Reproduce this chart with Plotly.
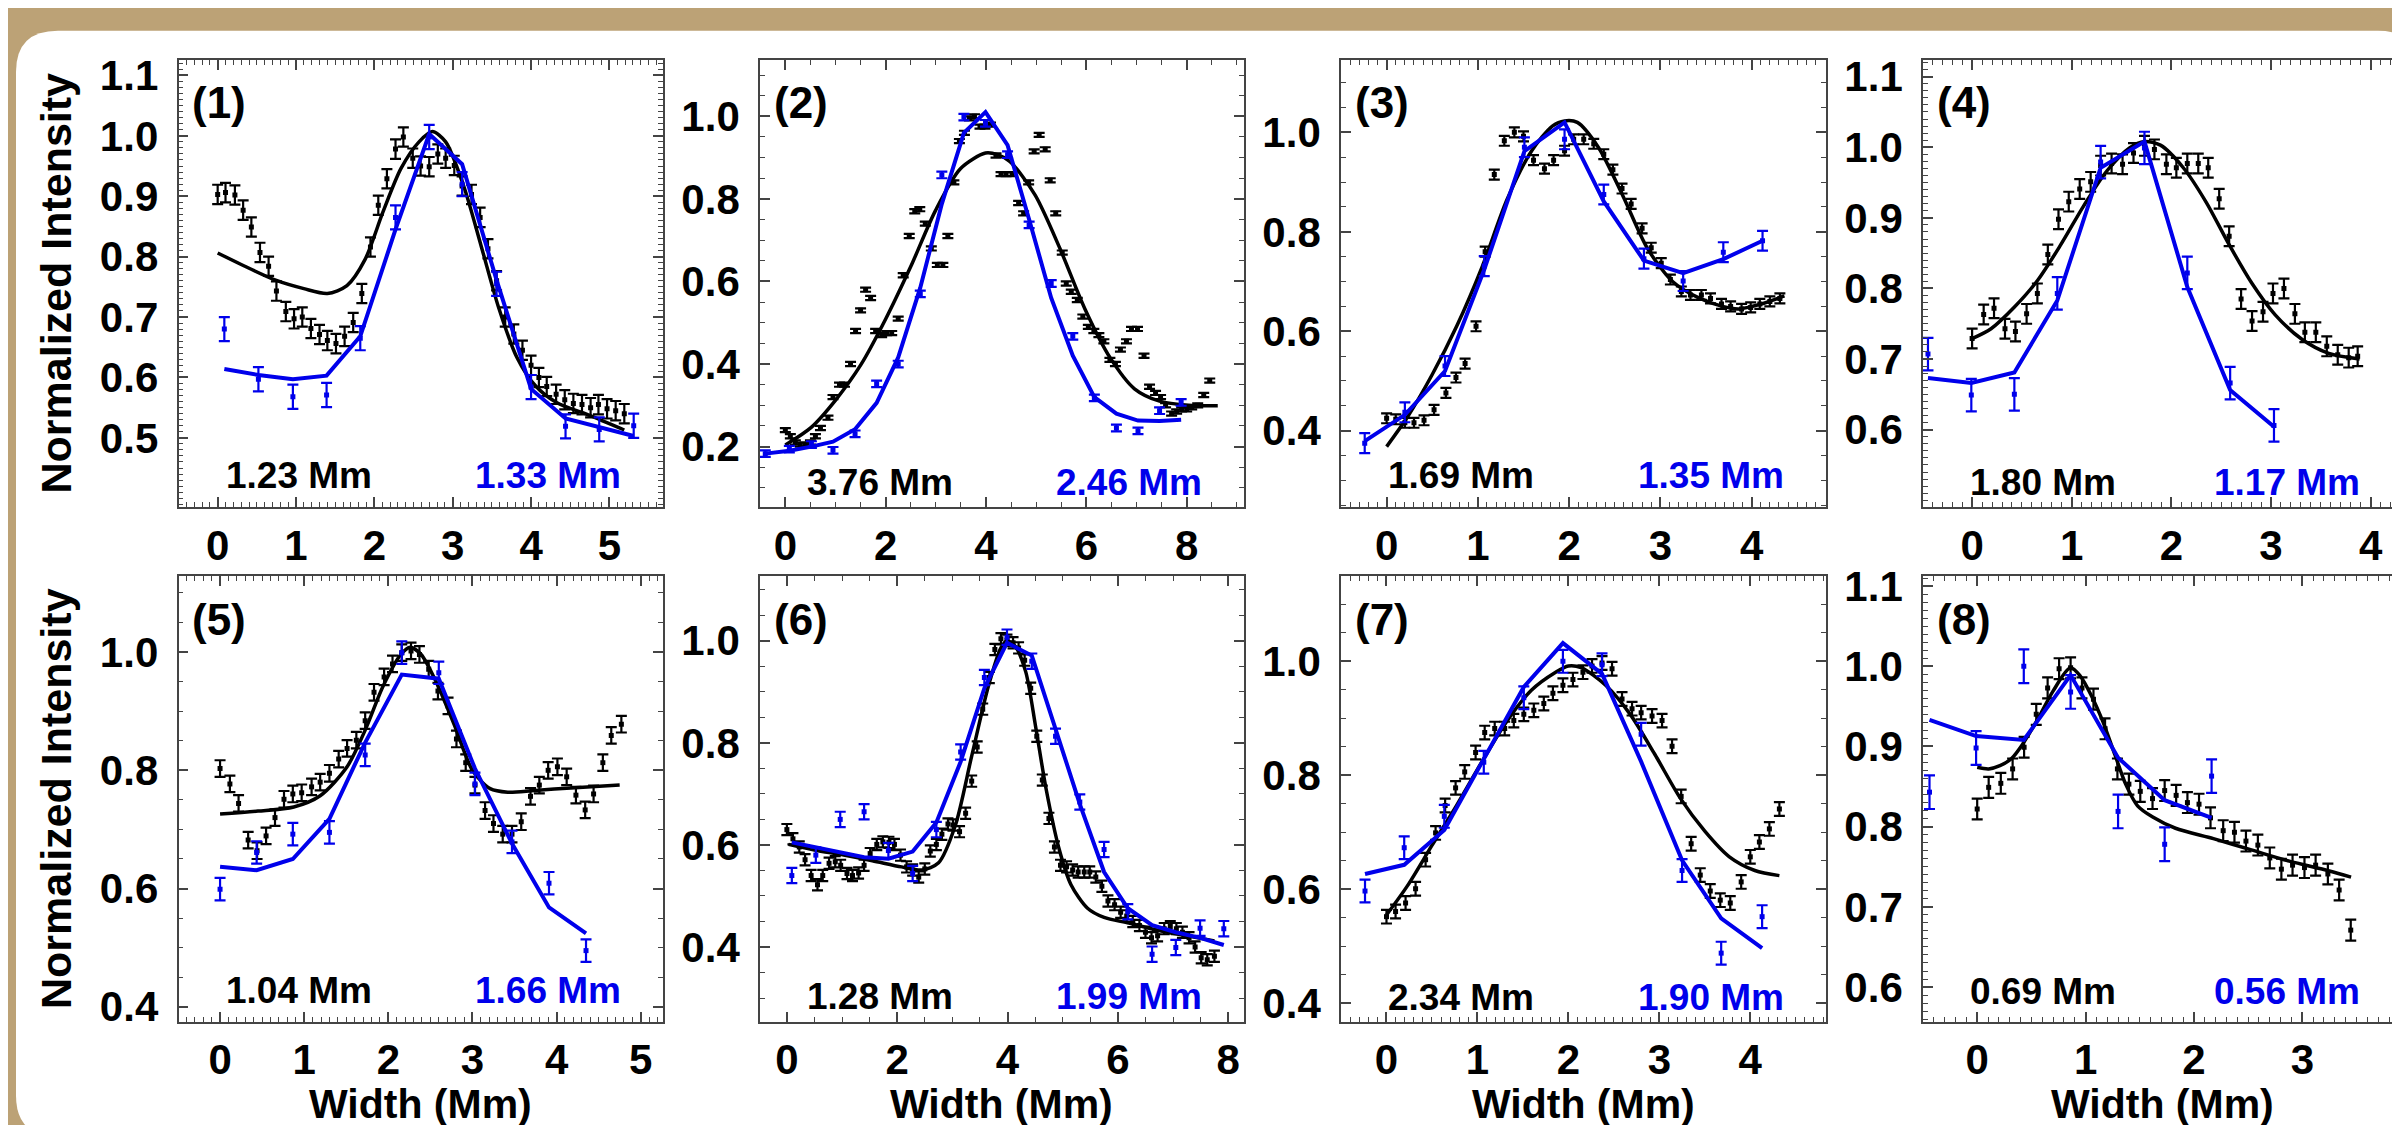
import plotly.graph_objects as go

# ---------------- data ----------------
# Panel 1
p1_bx = [0.00,0.10,0.22,0.325,0.43,0.54,0.65,0.75,0.87,0.975,1.08,1.19,1.30,1.40,1.51,1.62,1.73,1.84,1.95,2.05,2.16,2.27,2.37,2.49,2.59,2.70,2.81,2.91,3.02,3.12,3.24,3.35,3.45,3.56,3.67,3.78,3.89,4.00,4.10,4.20,4.32,4.43,4.54,4.65,4.76,4.86,4.97,5.08,5.19]
p1_by = [0.903,0.906,0.902,0.877,0.849,0.807,0.784,0.743,0.709,0.697,0.700,0.681,0.671,0.661,0.656,0.668,0.691,0.739,0.816,0.885,0.929,0.978,0.998,0.963,0.950,0.949,0.970,0.963,0.951,0.917,0.903,0.865,0.813,0.760,0.700,0.672,0.645,0.620,0.600,0.585,0.572,0.563,0.557,0.555,0.550,0.555,0.548,0.545,0.540]
p1_fx = [0.00,0.30,0.74,1.10,1.40,1.65,1.88,2.11,2.34,2.57,2.74,2.91,3.14,3.36,3.59,3.82,4.05,4.33,4.73,5.19]
p1_fy = [0.806,0.787,0.761,0.747,0.739,0.752,0.795,0.874,0.946,0.990,1.007,0.990,0.917,0.819,0.714,0.633,0.587,0.558,0.538,0.513]
p1_ux = [0.085,0.52,0.96,1.39,1.82,2.27,2.70,3.12,3.56,4.00,4.44,4.87,5.31]
p1_uy = [0.680,0.597,0.568,0.571,0.665,0.865,0.998,0.920,0.755,0.584,0.519,0.514,0.520]
p1_ly = [0.614,0.604,0.597,0.603,0.668,0.845,1.003,0.953,0.761,0.581,0.532,0.517,0.503]

# Panel 2
p2_bx = [0.00,0.10,0.20,0.30,0.40,0.50,0.60,0.70,0.85,0.95,1.08,1.18,1.30,1.40,1.50,1.60,1.70,1.80,1.92,2.02,2.12,2.25,2.35,2.47,2.58,2.68,2.79,2.91,3.03,3.14,3.24,3.36,3.47,3.57,3.67,3.77,3.88,3.98,4.09,4.20,4.30,4.40,4.52,4.65,4.75,4.85,4.96,5.06,5.18,5.28,5.39,5.52,5.60,5.70,5.82,5.93,6.04,6.15,6.25,6.35,6.47,6.58,6.68,6.80,6.90,7.02,7.15,7.26,7.38,7.48,7.58,7.70,7.80,7.90,8.00,8.10,8.22,8.34,8.46]
p2_by = [0.240,0.225,0.210,0.205,0.205,0.210,0.225,0.245,0.270,0.320,0.350,0.350,0.400,0.480,0.530,0.580,0.560,0.480,0.470,0.475,0.475,0.510,0.615,0.710,0.770,0.775,0.740,0.680,0.640,0.640,0.710,0.840,0.940,0.960,0.995,1.000,0.975,0.975,0.980,0.905,0.860,0.860,0.860,0.790,0.765,0.840,0.915,0.955,0.920,0.845,0.765,0.670,0.595,0.575,0.555,0.515,0.490,0.480,0.470,0.455,0.410,0.400,0.435,0.455,0.485,0.485,0.420,0.345,0.330,0.320,0.300,0.280,0.285,0.290,0.290,0.295,0.300,0.325,0.360]
p2_fx = [0.00,0.51,1.01,1.51,2.00,2.50,2.99,3.49,3.99,4.23,4.48,4.98,5.48,5.97,6.47,6.96,7.46,8.04,8.62]
p2_fy = [0.204,0.246,0.314,0.399,0.509,0.636,0.771,0.873,0.911,0.907,0.890,0.809,0.678,0.534,0.416,0.340,0.310,0.300,0.299]
p2_ux = [-0.40,0.08,0.52,0.95,1.39,1.82,2.25,2.69,3.12,3.56,3.99,4.43,4.86,5.30,5.73,6.16,6.60,7.03,7.46,7.89]
p2_uy = [0.183,0.194,0.205,0.191,0.231,0.352,0.400,0.570,0.858,0.998,0.983,0.907,0.737,0.595,0.467,0.318,0.245,0.238,0.287,0.307]
p2_ly = [0.183,0.190,0.200,0.212,0.242,0.306,0.416,0.585,0.788,0.960,1.010,0.930,0.750,0.560,0.420,0.320,0.280,0.263,0.262,0.265]

# Panel 3
p3_bx = [0.00,0.10,0.20,0.30,0.41,0.52,0.65,0.76,0.86,0.98,1.08,1.18,1.29,1.40,1.50,1.61,1.73,1.83,1.95,2.05,2.16,2.27,2.38,2.48,2.58,2.68,2.80,2.90,3.01,3.11,3.23,3.33,3.45,3.55,3.67,3.77,3.89,3.99,4.09,4.20,4.31]
p3_by = [0.425,0.423,0.416,0.416,0.421,0.442,0.476,0.507,0.535,0.610,0.760,0.915,0.983,1.000,0.992,0.944,0.927,0.944,0.963,0.986,0.986,0.977,0.956,0.925,0.887,0.856,0.807,0.768,0.737,0.704,0.680,0.673,0.673,0.666,0.655,0.650,0.645,0.648,0.655,0.660,0.666]
p3_fx = [0.00,0.23,0.50,0.77,1.05,1.32,1.59,1.82,1.95,2.09,2.32,2.59,2.86,3.14,3.41,3.68,3.86,4.09,4.36]
p3_fy = [0.368,0.428,0.513,0.611,0.731,0.865,0.963,1.013,1.023,1.020,0.970,0.872,0.766,0.699,0.668,0.650,0.645,0.654,0.671]
p3_ux = [-0.24,0.20,0.64,1.07,1.51,1.95,2.38,2.82,3.25,3.69,4.12]
p3_uy = [0.375,0.437,0.530,0.731,0.970,0.986,0.875,0.746,0.701,0.759,0.782]
p3_ly = [0.379,0.432,0.520,0.724,0.962,1.020,0.861,0.742,0.717,0.745,0.782]

# Panel 4
p4_bx = [0.00,0.116,0.22,0.33,0.435,0.547,0.655,0.76,0.867,0.97,1.08,1.19,1.29,1.40,1.51,1.62,1.73,1.83,1.95,2.05,2.16,2.27,2.37,2.48,2.58,2.70,2.81,2.92,3.02,3.13,3.24,3.34,3.45,3.56,3.67,3.78,3.87]
p4_by = [0.729,0.763,0.772,0.743,0.739,0.764,0.793,0.848,0.898,0.923,0.941,0.951,0.974,0.977,0.976,0.992,1.002,0.997,0.976,0.971,0.977,0.977,0.971,0.927,0.874,0.785,0.754,0.767,0.793,0.800,0.764,0.738,0.738,0.718,0.706,0.702,0.704]
p4_fx = [0.00,0.19,0.42,0.66,0.89,1.12,1.35,1.58,1.73,1.89,2.12,2.35,2.58,2.81,3.04,3.31,3.58,3.89]
p4_fy = [0.729,0.743,0.773,0.812,0.862,0.917,0.966,0.999,1.008,1.003,0.971,0.922,0.862,0.807,0.763,0.728,0.708,0.700]
p4_ux = [-0.443,-0.008,0.424,0.855,1.29,1.73,2.16,2.59,3.03]
p4_uy = [0.707,0.649,0.650,0.793,0.979,0.999,0.822,0.666,0.606]
p4_ly = [0.673,0.666,0.681,0.783,0.971,1.008,0.802,0.656,0.604]

# Panel 5
p5_bx = [0.00,0.117,0.22,0.334,0.44,0.547,0.653,0.76,0.865,0.97,1.088,1.19,1.30,1.41,1.51,1.62,1.725,1.83,1.95,2.05,2.16,2.27,2.37,2.48,2.59,2.71,2.81,2.92,3.03,3.15,3.25,3.36,3.47,3.58,3.69,3.795,3.90,4.01,4.12,4.23,4.34,4.44,4.55,4.65,4.77]
p5_by = [0.803,0.777,0.744,0.682,0.664,0.689,0.720,0.751,0.760,0.762,0.772,0.780,0.795,0.819,0.837,0.851,0.884,0.932,0.958,0.980,0.999,1.002,0.996,0.971,0.934,0.909,0.853,0.813,0.775,0.732,0.710,0.692,0.692,0.713,0.756,0.775,0.800,0.806,0.789,0.758,0.733,0.760,0.813,0.859,0.878]
p5_fx = [0.00,0.45,0.876,1.19,1.51,1.725,1.94,2.15,2.26,2.39,2.57,2.79,3.00,3.21,3.42,3.74,4.17,4.75]
p5_fy = [0.726,0.731,0.738,0.757,0.806,0.868,0.943,0.996,1.008,0.996,0.949,0.875,0.800,0.769,0.763,0.766,0.770,0.775]
p5_ux = [0.00,0.435,0.865,1.30,1.725,2.16,2.60,3.03,3.47,3.91,4.35]
p5_uy = [0.599,0.661,0.692,0.695,0.826,0.999,0.965,0.777,0.679,0.609,0.495]
p5_ly = [0.637,0.631,0.650,0.718,0.847,0.962,0.955,0.803,0.676,0.568,0.524]

# Panel 6
p6_bx = [0.00,0.11,0.225,0.33,0.44,0.555,0.65,0.765,0.877,0.975,1.09,1.19,1.30,1.40,1.51,1.63,1.74,1.85,1.95,2.06,2.17,2.28,2.39,2.50,2.60,2.71,2.81,2.92,3.01,3.13,3.24,3.35,3.45,3.55,3.67,3.77,3.88,3.99,4.10,4.20,4.31,4.42,4.53,4.63,4.75,4.85,4.96,5.07,5.18,5.28,5.39,5.49,5.60,5.71,5.82,5.94,6.05,6.16,6.27,6.39,6.50,6.61,6.72,6.84,6.95,7.06,7.17,7.29,7.40,7.51,7.62,7.75]
p6_by = [0.630,0.612,0.596,0.571,0.540,0.522,0.540,0.564,0.567,0.560,0.544,0.540,0.545,0.560,0.583,0.601,0.606,0.605,0.601,0.580,0.557,0.551,0.537,0.553,0.588,0.601,0.621,0.641,0.639,0.626,0.662,0.725,0.792,0.866,0.928,0.983,1.004,1.001,0.996,0.986,0.962,0.907,0.813,0.727,0.652,0.596,0.560,0.557,0.551,0.547,0.547,0.547,0.537,0.519,0.490,0.483,0.468,0.461,0.450,0.442,0.429,0.418,0.422,0.436,0.440,0.436,0.429,0.418,0.400,0.379,0.375,0.382]
p6_fx = [0.03,0.50,1.03,1.55,2.08,2.45,2.75,3.05,3.35,3.65,3.88,3.99,4.14,4.33,4.51,4.70,4.93,5.15,5.45,5.75,6.20,6.72,7.25,7.75]
p6_fy = [0.601,0.590,0.580,0.569,0.557,0.551,0.565,0.637,0.774,0.910,0.986,1.000,0.989,0.939,0.831,0.709,0.594,0.522,0.476,0.458,0.447,0.433,0.422,0.412]
p6_ux = [0.09,0.525,0.967,1.40,1.84,2.28,2.71,3.15,3.58,3.99,4.44,4.87,5.31,5.75,6.18,6.62,7.05,7.49,7.92]
p6_uy = [0.540,0.580,0.650,0.665,0.589,0.544,0.630,0.782,0.928,1.007,0.960,0.813,0.684,0.591,0.469,0.386,0.399,0.437,0.436]
p6_ly = [0.605,0.595,0.584,0.576,0.573,0.587,0.644,0.763,0.907,0.996,0.971,0.828,0.680,0.547,0.476,0.443,0.429,0.418,0.404]

# Panel 7
p7_bx = [0.00,0.10,0.21,0.32,0.43,0.54,0.645,0.76,0.86,0.98,1.08,1.19,1.30,1.40,1.51,1.62,1.73,1.83,1.94,2.05,2.16,2.26,2.37,2.48,2.59,2.70,2.80,2.92,3.03,3.14,3.24,3.35,3.45,3.56,3.67,3.78,3.90,4.00,4.10,4.21,4.32]
p7_by = [0.552,0.561,0.576,0.601,0.652,0.699,0.747,0.778,0.806,0.840,0.875,0.882,0.882,0.896,0.907,0.914,0.926,0.944,0.958,0.968,0.981,0.992,0.997,0.987,0.934,0.917,0.910,0.904,0.896,0.851,0.763,0.680,0.625,0.597,0.581,0.576,0.613,0.657,0.683,0.706,0.741]
p7_fx = [0.00,0.23,0.50,0.77,1.05,1.32,1.59,1.86,2.00,2.14,2.41,2.68,2.95,3.23,3.50,3.77,4.05,4.32]
p7_fy = [0.555,0.606,0.677,0.747,0.824,0.894,0.949,0.981,0.992,0.989,0.958,0.907,0.837,0.760,0.702,0.657,0.633,0.624]
p7_ux = [-0.236,0.195,0.636,1.07,1.51,1.94,2.37,2.80,3.25,3.68,4.13]
p7_uy = [0.597,0.673,0.728,0.823,0.936,1.000,0.994,0.872,0.633,0.488,0.552]
p7_ly = [0.627,0.643,0.704,0.827,0.955,1.032,0.978,0.824,0.651,0.549,0.497]

# Panel 8
p8_bx = [0.00,0.106,0.218,0.327,0.433,0.545,0.65,0.756,0.862,0.967,1.073,1.18,1.294,1.40,1.505,1.618,1.73,1.836,1.94,2.047,2.153,2.27,2.374,2.48,2.59,2.70,2.807,2.91,3.02,3.123,3.236,3.34,3.447]
p8_by = [0.822,0.849,0.854,0.872,0.899,0.940,0.973,0.997,0.998,0.973,0.959,0.922,0.872,0.853,0.844,0.835,0.845,0.839,0.830,0.828,0.811,0.795,0.793,0.782,0.777,0.761,0.747,0.752,0.749,0.752,0.741,0.721,0.671]
p8_fx = [0.00,0.106,0.21,0.317,0.42,0.563,0.70,0.86,0.95,1.055,1.16,1.27,1.37,1.48,1.62,1.83,2.18,2.53,2.88,3.24,3.45]
p8_fy = [0.874,0.872,0.876,0.885,0.903,0.935,0.969,0.998,0.988,0.963,0.931,0.890,0.853,0.826,0.812,0.798,0.785,0.771,0.757,0.745,0.737]
p8_ux = [-0.44,-0.01,0.43,0.862,1.30,1.73,2.163]
p8_uy = [0.843,0.898,1.000,0.968,0.819,0.778,0.863]
p8_ly = [0.933,0.913,0.908,0.989,0.886,0.833,0.811]

# uncertainties (half-length of error bars)
black_err = [0.016, 0.005, 0.010, 0.014, 0.014, 0.011, 0.012, 0.013]
blue_err = [0.020, 0.008, 0.020, 0.023, 0.019, 0.015, 0.020, 0.021]

panel_labels = ["(1)", "(2)", "(3)", "(4)", "(5)", "(6)", "(7)", "(8)"]
black_width = ["1.23 Mm", "3.76 Mm", "1.69 Mm", "1.80 Mm", "1.04 Mm", "1.28 Mm", "2.34 Mm", "0.69 Mm"]
blue_width = ["1.33 Mm", "2.46 Mm", "1.35 Mm", "1.17 Mm", "1.66 Mm", "1.99 Mm", "1.90 Mm", "0.56 Mm"]

x_ranges = [(-0.50, 5.684), (-0.505, 9.133), (-0.50, 4.81), (-0.493, 4.315),
            (-0.494, 5.265), (-0.487, 8.277), (-0.50, 4.827), (-0.50, 3.92)]
y_ranges = [(0.385, 1.126), (0.053, 1.137), (0.246, 1.146), (0.49, 1.124),
            (0.375, 1.128), (0.254, 1.126), (0.368, 1.149), (0.557, 1.112)]
x_ticks = [[0, 1, 2, 3, 4, 5], [0, 2, 4, 6, 8], [0, 1, 2, 3, 4], [0, 1, 2, 3, 4],
           [0, 1, 2, 3, 4, 5], [0, 2, 4, 6, 8], [0, 1, 2, 3, 4], [0, 1, 2, 3]]
y_ticks = [[0.5, 0.6, 0.7, 0.8, 0.9, 1.0, 1.1], [0.2, 0.4, 0.6, 0.8, 1.0],
           [0.4, 0.6, 0.8, 1.0], [0.6, 0.7, 0.8, 0.9, 1.0, 1.1],
           [0.4, 0.6, 0.8, 1.0], [0.4, 0.6, 0.8, 1.0], [0.4, 0.6, 0.8, 1.0],
           [0.6, 0.7, 0.8, 0.9, 1.0, 1.1]]
x_minor = [0.1, 0.5, 0.1, 0.1, 0.1, 0.5, 0.1, 0.1]
y_minor = [0.01, 0.05, 0.05, 0.01, 0.05, 0.05, 0.05, 0.01]

x_axis_title = "Width (Mm)"
y_axis_title = "Normalized Intensity"

panels = [
    (p1_bx, p1_by, p1_fx, p1_fy, p1_ux, p1_uy, p1_ly),
    (p2_bx, p2_by, p2_fx, p2_fy, p2_ux, p2_uy, p2_ly),
    (p3_bx, p3_by, p3_fx, p3_fy, p3_ux, p3_uy, p3_ly),
    (p4_bx, p4_by, p4_fx, p4_fy, p4_ux, p4_uy, p4_ly),
    (p5_bx, p5_by, p5_fx, p5_fy, p5_ux, p5_uy, p5_ly),
    (p6_bx, p6_by, p6_fx, p6_fy, p6_ux, p6_uy, p6_ly),
    (p7_bx, p7_by, p7_fx, p7_fy, p7_ux, p7_uy, p7_ly),
    (p8_bx, p8_by, p8_fx, p8_fy, p8_ux, p8_uy, p8_ly),
]

# ---------------- layout geometry (pixels) ----------------
W, H = 2400, 1125
cols_px = [(170.5, 655), (752, 1235.5), (1333, 1817.5), (1915, 2394)]
rows_px = [(39.5, 496), (566.5, 1020.5)]
label_dy = [32, 25, 32, 25, 32, 26, 25, 31]

FONT = "Liberation Sans, Arial, Helvetica, sans-serif"
BLUE = "rgb(0,0,235)"
AXC = "#444444"
TICK_SIZE = 42

def px(x):
    return x / W

def py(y):
    return 1 - y / H

fig = go.Figure()
layout = dict(
    width=W, height=H, autosize=False,
    margin=dict(l=0, r=0, t=0, b=0),
    paper_bgcolor="#bca276", plot_bgcolor="white",
    showlegend=False,
    annotations=[], shapes=[],
)

# white rounded card on the tan background
x0, y0, x1, y1 = px(8), py(10), px(2412), py(1138)
rx, ry = 42 / W, 42 / H
path = (f"M {x0+rx},{y0} L {x1-rx},{y0} Q {x1},{y0} {x1},{y0-ry} "
        f"L {x1},{y1+ry} Q {x1},{y1} {x1-rx},{y1} L {x0+rx},{y1} "
        f"Q {x0},{y1} {x0},{y1+ry} L {x0},{y0-ry} Q {x0},{y0} {x0+rx},{y0} Z")
layout["shapes"].append(dict(type="path", xref="paper", yref="paper", path=path,
                             fillcolor="white", line=dict(width=0), layer="below"))

for i, (bx, by, fx, fy, ux, uy, ly) in enumerate(panels):
    r, c = divmod(i, 4)
    L, R = cols_px[c]
    T, B = rows_px[r]
    xa = "x" if i == 0 else f"x{i+1}"
    ya = "y" if i == 0 else f"y{i+1}"
    xkey = "xaxis" if i == 0 else f"xaxis{i+1}"
    ykey = "yaxis" if i == 0 else f"yaxis{i+1}"

    common = dict(showline=True, linecolor=AXC, linewidth=1.7, mirror="all",
                  ticks="inside", ticklen=10, tickwidth=1.7, tickcolor=AXC,
                  showgrid=False, zeroline=False, tickmode="array",
                  tickfont=dict(family=FONT, size=TICK_SIZE, color="black", weight="bold"))
    layout[xkey] = dict(common, domain=[px(L), px(R)], range=list(x_ranges[i]),
                        anchor=ya, tickvals=x_ticks[i],
                        ticktext=[str(v) for v in x_ticks[i]], ticklabelstandoff=0,
                        minor=dict(ticks="inside", ticklen=5, tickwidth=1.3, tickcolor=AXC,
                                   tickmode="linear", dtick=x_minor[i], tick0=0))
    layout[ykey] = dict(common, domain=[py(B), py(T)], range=list(y_ranges[i]),
                        anchor=xa, tickvals=y_ticks[i],
                        ticktext=[f"{v:.1f}" for v in y_ticks[i]], ticklabelstandoff=10,
                        minor=dict(ticks="inside", ticklen=5, tickwidth=1.3, tickcolor=AXC,
                                   tickmode="linear", dtick=y_minor[i], tick0=0))

    # black data with error bars
    fig.add_trace(go.Scatter(x=bx, y=by, xaxis=xa, yaxis=ya, mode="markers",
                             marker=dict(symbol="square", size=5, color="black"),
                             error_y=dict(type="data", array=[black_err[i]] * len(by),
                                          color="black", thickness=2.2, width=5.5)))
    # black fit curve
    fig.add_trace(go.Scatter(x=fx, y=fy, xaxis=xa, yaxis=ya, mode="lines",
                             line=dict(color="black", width=3.5, shape="spline", smoothing=0.8)))
    # blue data with error bars
    fig.add_trace(go.Scatter(x=ux, y=uy, xaxis=xa, yaxis=ya, mode="markers",
                             marker=dict(symbol="square", size=5, color=BLUE),
                             error_y=dict(type="data", array=[blue_err[i]] * len(uy),
                                          color=BLUE, thickness=2.2, width=5.5)))
    # blue model line
    fig.add_trace(go.Scatter(x=ux, y=ly, xaxis=xa, yaxis=ya, mode="lines",
                             line=dict(color=BLUE, width=4)))

    # panel label
    layout["annotations"].append(dict(
        text=panel_labels[i], xref="paper", yref="paper", x=px(L + 12), y=py(T + 44),
        xanchor="left", yanchor="middle", showarrow=False,
        font=dict(family=FONT, size=44, color="black", weight="bold")))
    # widths
    layout["annotations"].append(dict(
        text=black_width[i], xref="paper", yref="paper", x=px(L + 45), y=py(B - label_dy[i]),
        xanchor="left", yanchor="middle", showarrow=False,
        font=dict(family=FONT, size=37, color="black", weight="bold")))
    layout["annotations"].append(dict(
        text=blue_width[i], xref="paper", yref="paper", x=px(R - 40), y=py(B - label_dy[i]),
        xanchor="right", yanchor="middle", showarrow=False,
        font=dict(family=FONT, size=37, color=BLUE, weight="bold")))

# axis titles
for (T, B) in rows_px:
    layout["annotations"].append(dict(
        text=y_axis_title, xref="paper", yref="paper", x=px(48), y=py((T + B) / 2),
        xanchor="center", yanchor="middle", textangle=-90, showarrow=False,
        font=dict(family=FONT, size=43, color="black", weight="bold")))
for (L, R) in cols_px:
    layout["annotations"].append(dict(
        text=x_axis_title, xref="paper", yref="paper", x=px((L + R) / 2), y=py(1105),
        xanchor="center", yanchor="middle", showarrow=False,
        font=dict(family=FONT, size=41, color="black", weight="bold")))

fig.update_layout(**layout)
fig.write_html("out.html")
